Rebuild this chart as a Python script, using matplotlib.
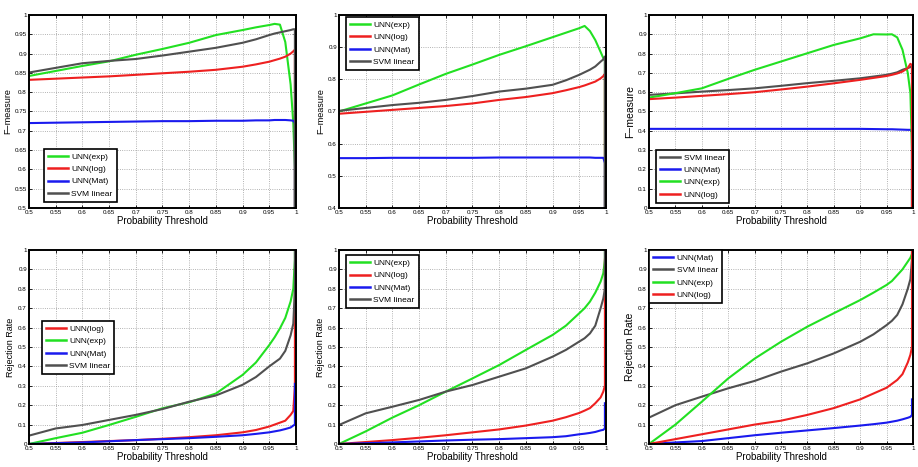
import numpy as np
import matplotlib
matplotlib.use("Agg")
import matplotlib.pyplot as plt

plt.rcParams['font.family'] = ['Liberation Sans', 'DejaVu Sans']

# probability thresholds (last point repeated for the vertical drop/jump at the end)
thr = [0.5, 0.55, 0.6, 0.65, 0.7, 0.75, 0.8, 0.85, 0.9, 0.925,
       0.95, 0.96, 0.97, 0.98, 0.99, 0.995, 0.998, 0.998]

# ---- F-measure, top row ----
f1_exp = [0.842, 0.855, 0.868, 0.880, 0.897, 0.912, 0.928, 0.948, 0.961, 0.968,
          0.974, 0.977, 0.975, 0.93, 0.82, 0.72, 0.60, 0.5]
f1_log = [0.832, 0.835, 0.838, 0.841, 0.845, 0.849, 0.853, 0.858, 0.866, 0.872,
          0.879, 0.883, 0.887, 0.892, 0.900, 0.906, 0.910, 0.5]
f1_mat = [0.720, 0.721, 0.722, 0.723, 0.724, 0.725, 0.725, 0.726, 0.726, 0.727,
          0.727, 0.728, 0.728, 0.728, 0.727, 0.726, 0.720, 0.5]
f1_svm = [0.851, 0.863, 0.875, 0.881, 0.886, 0.895, 0.905, 0.915, 0.928, 0.937,
          0.948, 0.952, 0.955, 0.958, 0.961, 0.963, 0.963, 0.5]

f2_exp = [0.700, 0.725, 0.750, 0.784, 0.817, 0.846, 0.876, 0.903, 0.931, 0.945,
          0.959, 0.966, 0.950, 0.922, 0.885, 0.866, 0.860, 0.4]
f2_log = [0.693, 0.699, 0.705, 0.711, 0.717, 0.725, 0.736, 0.745, 0.757, 0.766,
          0.776, 0.781, 0.787, 0.793, 0.803, 0.810, 0.817, 0.4]
f2_mat = [0.555, 0.555, 0.556, 0.556, 0.556, 0.556, 0.557, 0.557, 0.557, 0.557,
          0.557, 0.557, 0.557, 0.556, 0.556, 0.556, 0.540, 0.4]
f2_svm = [0.702, 0.711, 0.720, 0.727, 0.736, 0.748, 0.762, 0.771, 0.783, 0.797,
          0.814, 0.822, 0.830, 0.840, 0.855, 0.862, 0.871, 0.4]

f3_svm = [0.586, 0.594, 0.603, 0.611, 0.620, 0.633, 0.647, 0.659, 0.672, 0.681,
          0.690, 0.696, 0.703, 0.716, 0.725, 0.730, 0.735, 0.0]
f3_mat = [0.410, 0.410, 0.410, 0.410, 0.410, 0.410, 0.410, 0.410, 0.410, 0.409,
          0.408, 0.408, 0.407, 0.406, 0.405, 0.405, 0.400, 0.0]
f3_exp = [0.572, 0.595, 0.620, 0.669, 0.716, 0.759, 0.802, 0.845, 0.879, 0.900,
          0.899, 0.900, 0.884, 0.820, 0.700, 0.595, 0.300, 0.0]
f3_log = [0.564, 0.572, 0.581, 0.590, 0.600, 0.614, 0.629, 0.646, 0.664, 0.674,
          0.684, 0.690, 0.697, 0.707, 0.725, 0.747, 0.740, 0.0]

# ---- Rejection rate, bottom row ----
r1_log = [0.0, 0.005, 0.010, 0.015, 0.020, 0.027, 0.035, 0.045, 0.060, 0.072,
          0.090, 0.100, 0.110, 0.120, 0.150, 0.170, 0.300, 0.90]
r1_exp = [0.0, 0.030, 0.058, 0.098, 0.140, 0.184, 0.215, 0.260, 0.356, 0.420,
          0.510, 0.550, 0.596, 0.650, 0.735, 0.800, 0.950, 1.0]
r1_mat = [0.0, 0.004, 0.008, 0.014, 0.020, 0.025, 0.030, 0.037, 0.045, 0.052,
          0.060, 0.065, 0.070, 0.077, 0.085, 0.095, 0.100, 0.31]
r1_svm = [0.043, 0.080, 0.098, 0.124, 0.150, 0.180, 0.218, 0.250, 0.305, 0.345,
          0.400, 0.420, 0.440, 0.480, 0.560, 0.620, 0.800, 1.0]

r2_exp = [0.0, 0.065, 0.136, 0.200, 0.270, 0.338, 0.407, 0.485, 0.562, 0.610,
          0.674, 0.700, 0.734, 0.780, 0.837, 0.880, 0.950, 1.0]
r2_log = [0.0, 0.010, 0.020, 0.032, 0.045, 0.060, 0.075, 0.095, 0.120, 0.138,
          0.160, 0.172, 0.185, 0.210, 0.240, 0.270, 0.300, 0.95]
r2_mat = [0.0, 0.004, 0.008, 0.013, 0.018, 0.022, 0.025, 0.030, 0.035, 0.040,
          0.050, 0.053, 0.057, 0.062, 0.070, 0.073, 0.080, 0.21]
r2_svm = [0.098, 0.158, 0.192, 0.227, 0.270, 0.304, 0.347, 0.390, 0.450, 0.485,
          0.528, 0.545, 0.570, 0.610, 0.700, 0.750, 0.800, 1.0]

r3_mat = [0.0, 0.008, 0.015, 0.030, 0.045, 0.058, 0.070, 0.082, 0.095, 0.102,
          0.110, 0.115, 0.120, 0.127, 0.135, 0.140, 0.150, 0.23]
r3_svm = [0.136, 0.200, 0.244, 0.287, 0.325, 0.373, 0.416, 0.467, 0.527, 0.565,
          0.613, 0.635, 0.665, 0.720, 0.800, 0.850, 0.950, 1.0]
r3_exp = [0.0, 0.100, 0.218, 0.338, 0.440, 0.527, 0.605, 0.674, 0.742, 0.780,
          0.820, 0.840, 0.870, 0.900, 0.940, 0.960, 0.980, 1.0]
r3_log = [0.0, 0.025, 0.050, 0.075, 0.100, 0.120, 0.150, 0.185, 0.230, 0.260,
          0.290, 0.310, 0.330, 0.360, 0.420, 0.460, 0.500, 1.0]

colors = {'UNN(exp)': '#22e022', 'UNN(log)': '#ee2020',
          'UNN(Mat)': '#1a1aee', 'SVM linear': '#505050'}

panels = [
    # (rect, series, ylim, yticks, ylabel, legend loc, legend anchor)
    ([0.0316, 0.5546, 0.2908, 0.4133],
     [('UNN(exp)', f1_exp), ('UNN(log)', f1_log), ('UNN(Mat)', f1_mat), ('SVM linear', f1_svm)],
     (0.5, 1.0), np.arange(0.5, 1.001, 0.05), 'F\u2212measure', 'lower left', (0.056, 0.031)),
    ([0.3693, 0.5546, 0.2908, 0.4133],
     [('UNN(exp)', f2_exp), ('UNN(log)', f2_log), ('UNN(Mat)', f2_mat), ('SVM linear', f2_svm)],
     (0.4, 1.0), np.arange(0.4, 1.001, 0.1), 'F\u2212measure', 'upper left', (0.026, 0.99)),
    ([0.7070, 0.5546, 0.2876, 0.4133],
     [('SVM linear', f3_svm), ('UNN(Mat)', f3_mat), ('UNN(exp)', f3_exp), ('UNN(log)', f3_log)],
     (0.0, 1.0), np.arange(0, 1.001, 0.1), 'F\u2212measure', 'lower left', (0.027, 0.026)),
    ([0.0316, 0.0493, 0.2908, 0.4154],
     [('UNN(log)', r1_log), ('UNN(exp)', r1_exp), ('UNN(Mat)', r1_mat), ('SVM linear', r1_svm)],
     (0.0, 1.0), np.arange(0, 1.001, 0.1), 'Rejection Rate', 'lower left', (0.047, 0.36)),
    ([0.3693, 0.0493, 0.2908, 0.4154],
     [('UNN(exp)', r2_exp), ('UNN(log)', r2_log), ('UNN(Mat)', r2_mat), ('SVM linear', r2_svm)],
     (0.0, 1.0), np.arange(0, 1.001, 0.1), 'Rejection Rate', 'upper left', (0.026, 0.974)),
    ([0.7070, 0.0493, 0.2876, 0.4154],
     [('UNN(Mat)', r3_mat), ('SVM linear', r3_svm), ('UNN(exp)', r3_exp), ('UNN(log)', r3_log)],
     (0.0, 1.0), np.arange(0, 1.001, 0.1), 'Rejection Rate', 'upper left', (0.0, 1.0)),
]

fig = plt.figure(figsize=(9.18, 4.67), dpi=100)

for i, (rect, series, ylim, yticks, ylabel, loc, anchor) in enumerate(panels):
    ax = fig.add_axes(rect)
    for name, vals in series:
        ax.plot(thr, vals, color=colors[name], lw=1.5, label=name)
    ax.set_xlim(0.5, 1.0)
    ax.set_ylim(*ylim)
    xt = np.arange(0.5, 1.001, 0.05)
    ax.set_xticks(xt)
    ax.set_xticklabels(['{:g}'.format(round(v, 2)) for v in xt])
    ax.set_yticks(yticks)
    ax.set_yticklabels(['{:g}'.format(round(v, 2)) for v in yticks])
    ax.tick_params(direction='in', length=2, width=0.6, labelsize=4.5, pad=1.5,
                   top=True, right=True)
    ax.grid(True, linestyle=':', color='#9a9a9a', lw=0.6)
    for s in ax.spines.values():
        s.set_linewidth(1.4)
        s.set_color('black')
    ax.set_xlabel('Probability Threshold', fontsize=7, labelpad=0.5)
    big = (i == 2 or i == 5)
    ax.set_ylabel(ylabel, fontsize=7.5 if big else 6.5, labelpad=2)
    leg = ax.legend(loc=loc, bbox_to_anchor=anchor, borderaxespad=0, fontsize=6,
                    fancybox=False, framealpha=1, edgecolor='black',
                    handlelength=2.4, handletextpad=0.4, labelspacing=0.55,
                    borderpad=0.5)
    leg.get_frame().set_linewidth(1.2)
    for line in leg.get_lines():
        line.set_linewidth(1.8)

fig.savefig('out.png', dpi=100)
